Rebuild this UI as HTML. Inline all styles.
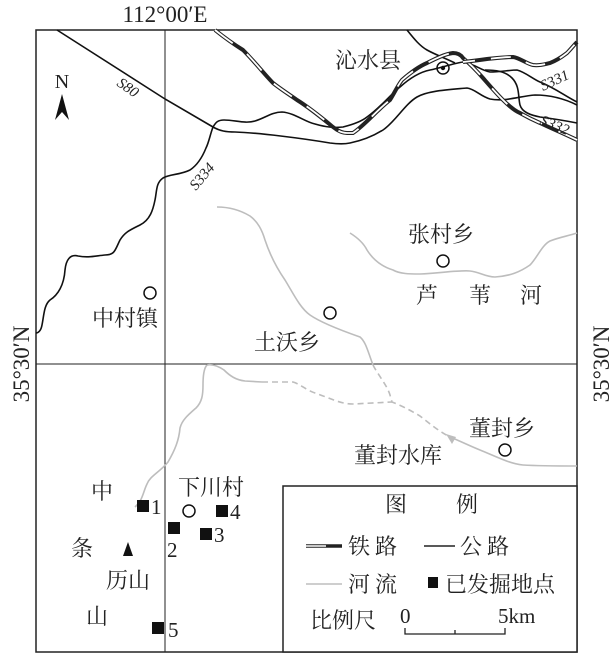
<!DOCTYPE html>
<html><head><meta charset="utf-8"><style>
html,body{margin:0;padding:0;background:#fff;}
svg{display:block;}
text{font-family:"Liberation Serif","Noto Serif CJK SC","Noto Sans CJK SC",serif;fill:#222;}
</style></head><body>
<svg width="616" height="662" viewBox="0 0 616 662" xmlns="http://www.w3.org/2000/svg">
<rect x="36" y="30" width="541" height="622" fill="none" stroke="#222" stroke-width="1.5"/>
<line x1="165" y1="30" x2="165" y2="652" stroke="#222" stroke-width="1"/>
<line x1="36" y1="364" x2="577" y2="364" stroke="#222" stroke-width="1"/>
<text x="165" y="22" font-size="23" text-anchor="middle">112°00′E</text>
<text transform="translate(29,364) rotate(-90)" font-size="23" text-anchor="middle">35°30′N</text>
<text transform="translate(609,364) rotate(-90)" font-size="23" text-anchor="middle">35°30′N</text>

<g fill="none" stroke="#bdbdbd" stroke-width="1.6">
<path d="M217,207 C228,207 240,210 250,216 C258,222 262,230 265,240 C270,255 276,267 285,280 C293,293 300,308 310,315 C320,322 340,330 360,337 C366,342 368,352 373,365"/>
<path d="M373,365 C378,375 387,385 390,395 L392,402 C400,405 410,410 420,416 C430,424 440,432 450,437" stroke-dasharray="6,4"/>
<path d="M450,437 C460,441 470,446 480,450 C495,456 510,464 523,465 C540,466 560,466 577,466"/>
<polygon points="446,434 456,437 452,444" fill="#bdbdbd" stroke="none"/>
<path d="M207,365 C212,364 218,366 224,370 C230,376 236,380 245,381 L262,382"/>
<path d="M262,382 L293,382 C300,384 306,390 315,393 C330,398 340,404 353,404 L392,402" stroke-dasharray="6,4"/>
<path d="M207,365 C204,368 203,375 203,385 C203,395 202,402 196,408 C188,415 182,420 180,428 C179,440 175,450 168,462 C160,472 150,476 147,484 C143,492 143,500 135,507"/>
<path d="M350,233 C358,238 364,244 367,250 C372,258 380,266 393,270 C400,274 410,274 420,274 C440,273 460,270 470,271 C480,272 485,277 495,277 C510,276 520,272 530,265 C537,258 542,245 550,241 C560,237 568,236 577,233"/>
</g>

<g fill="none" stroke="#111" stroke-width="1.6">
<path d="M57,30 L165,99 L213,127 C220,131 226,132 235,132 C260,133 300,138 330,143 C338,144 345,144 350,143 C365,140 375,135 383,130 C395,122 405,104 417,97 C427,91 445,90 467,88 C475,89 480,96 490,99 C505,102 520,96 535,95 C552,95 565,99 577,105"/>
<path d="M213,127 C216,122 218,120 224,120 C235,120 245,124 255,121 C265,118 272,112 282,112 C295,113 305,122 315,124 C325,127 335,128 343,127 C355,124 362,121 367,117 C380,108 392,93 400,87 C410,78 420,72 430,70 C440,68 455,63 463,62 C475,64 480,70 490,72 C500,72 510,70 517,70 C525,72 533,79 540,82 C555,88 565,96 577,102"/>
<path d="M213,127 C210,135 209,142 206,148 C202,158 196,166 190,170 C180,175 170,174 163,178 C156,183 157,190 155,200 C153,210 150,220 140,225 C130,230 125,232 120,240 C115,250 115,255 105,255 C95,256 88,258 78,256 C70,254 66,260 65,270 C64,285 58,295 50,300 C44,305 44,315 42,325 C41,331 38,333 36,333"/>
<path d="M407,30 C415,40 420,46 427,50 C436,55 445,58 455,63"/>
<path d="M485,70 C495,70 505,71 512,78 C520,86 518,97 520,105 C522,112 530,115 540,117 C555,119 567,121 577,123"/>
</g>

<g fill="none">
<path d="M215,30 C225,38 235,45 243,50 C255,62 265,75 273,83 C282,90 290,95 297,100 C310,108 322,118 333,127 C338,131 342,133 347,133 L353,133 C365,125 375,112 390,100 C395,92 398,85 402,80 C410,73 420,66 427,63 C437,58 445,54 453,53 C458,53 461,55 463,58 C470,64 476,70 483,78 C490,86 496,93 503,100 C510,107 515,111 520,113 C527,117 533,120 540,123 C555,130 567,135 577,140" stroke="#222" stroke-width="4"/>
<path d="M215,30 C225,38 235,45 243,50 C255,62 265,75 273,83 C282,90 290,95 297,100 C310,108 322,118 333,127 C338,131 342,133 347,133 L353,133 C365,125 375,112 390,100 C395,92 398,85 402,80 C410,73 420,66 427,63 C437,58 445,54 453,53 C458,53 461,55 463,58 C470,64 476,70 483,78 C490,86 496,93 503,100 C510,107 515,111 520,113 C527,117 533,120 540,123 C555,130 567,135 577,140" stroke="#fff" stroke-width="1.8" stroke-dasharray="22,18"/>
<path d="M463,62 C472,61 480,60 487,59 C497,58 505,57 513,57 C520,58 527,64 533,65 C540,66 545,64 550,63 C558,60 563,56 567,53 C571,49 574,45 577,42" stroke="#222" stroke-width="4"/>
<path d="M463,62 C472,61 480,60 487,59 C497,58 505,57 513,57 C520,58 527,64 533,65 C540,66 545,64 550,63 C558,60 563,56 567,53 C571,49 574,45 577,42" stroke="#fff" stroke-width="1.8" stroke-dasharray="20,16" stroke-dashoffset="8"/>
</g>

<text transform="translate(116,85) rotate(35)" font-size="15" font-style="italic">S80</text>
<text transform="translate(196,191) rotate(-50)" font-size="15" font-style="italic">S334</text>
<text transform="translate(543,91) rotate(-25)" font-size="15" font-style="italic">S331</text>
<text transform="translate(539,124) rotate(22)" font-size="15" font-style="italic">S332</text>

<text x="62" y="88" font-size="20" text-anchor="middle">N</text>
<polygon points="62,94 55,120 62,112 69,120" fill="#111"/>

<g fill="none" stroke="#111" stroke-width="1.5">
<circle cx="443" cy="68" r="6"/>
<circle cx="150" cy="293" r="6"/>
<circle cx="330" cy="313" r="6"/>
<circle cx="443" cy="261" r="6"/>
<circle cx="505" cy="450" r="6"/>
<circle cx="189" cy="511" r="6"/>
</g>
<circle cx="443" cy="68" r="2.2" fill="#111"/>

<g font-size="22">
<text x="335" y="68">沁水县</text>
<text x="92" y="326">中村镇</text>
<text x="254" y="350">土沃乡</text>
<text x="408" y="242">张村乡</text>
<text x="416" y="303">芦</text>
<text x="469" y="303">苇</text>
<text x="520" y="303">河</text>
<text x="469" y="436">董封乡</text>
<text x="354" y="463">董封水库</text>
<text x="178" y="495">下川村</text>
<text x="91" y="499">中</text>
<text x="71" y="556">条</text>
<text x="106" y="588">历山</text>
<text x="86" y="624">山</text>
</g>
<polygon points="128,542 123,556 133,556" fill="#111"/>

<g fill="#111">
<rect x="137" y="500" width="12" height="12"/>
<rect x="168" y="522" width="12" height="12"/>
<rect x="200" y="528" width="12" height="12"/>
<rect x="216" y="505" width="12" height="12"/>
<rect x="152" y="622" width="12" height="12"/>
</g>
<g font-size="21">
<text x="151" y="514">1</text>
<text x="167" y="557">2</text>
<text x="214" y="542">3</text>
<text x="230" y="519">4</text>
<text x="168" y="637">5</text>
</g>

<rect x="283" y="486" width="294" height="166" fill="#fff" stroke="#222" stroke-width="1.5"/>
<text x="385" y="512" font-size="22">图</text>
<text x="456" y="512" font-size="22">例</text>
<line x1="306" y1="546" x2="342" y2="546" stroke="#222" stroke-width="3.5"/>
<line x1="306" y1="546" x2="326" y2="546" stroke="#fff" stroke-width="1.5"/>
<text x="348" y="554" font-size="22" letter-spacing="5">铁路</text>
<line x1="424" y1="546" x2="455" y2="546" stroke="#222" stroke-width="1.5"/>
<text x="460" y="554" font-size="22" letter-spacing="5">公路</text>
<line x1="306" y1="584" x2="342" y2="584" stroke="#bdbdbd" stroke-width="1.6"/>
<text x="348" y="592" font-size="22" letter-spacing="5">河流</text>
<rect x="428" y="577" width="10" height="11" fill="#111"/>
<text x="445" y="592" font-size="22">已发掘地点</text>
<text x="310" y="628" font-size="22">比例尺</text>
<text x="400" y="623" font-size="21">0</text>
<text x="498" y="623" font-size="21">5km</text>
<path d="M405,628 L405,634 L505,634 L505,628 M455,634 L455,630" fill="none" stroke="#222" stroke-width="1.3"/>
</svg>
</body></html>
